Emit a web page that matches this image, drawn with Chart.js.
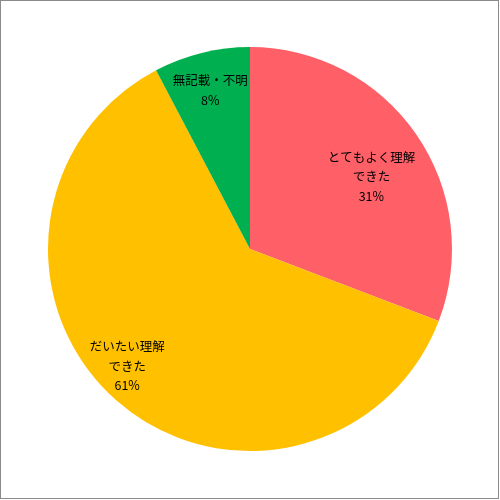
<!DOCTYPE html>
<html>
<head>
<meta charset="utf-8">
<script src="https://cdn.jsdelivr.net/npm/chart.js@4/dist/chart.umd.min.js"></script>
<style>
  html, body { margin: 0; padding: 0; background: #fff; }
  #wrap { width: 500px; height: 500px; }
</style>
</head>
<body>
<div id="wrap"><canvas id="chart" width="500" height="500"></canvas></div>
<script>
// answers (order: clockwise from 12 o'clock)
const labels = ['とてもよく理解\nできた', 'だいたい理解\nできた', '無記載・不明'];
const values = [30.8, 61.5, 7.7];
const pctLabels = ['31%', '61%', '8%'];
const colors = ['#FF6068', '#FFC000', '#00B050'];

// label placement: fraction of radius, and angle nudge (deg) from slice middle
const labelRadius = [0.70, 0.84, 0.81];
const labelNudge = [3.7, 4.8, -0.2];

const frameAndLabels = {
  id: 'frameAndLabels',
  afterDatasetsDraw(chart) {
    const ctx = chart.ctx;
    const meta = chart.getDatasetMeta(0);
    ctx.save();
    ctx.fillStyle = '#000';
    ctx.font = '12.5px "Noto Sans CJK JP", sans-serif';
    ctx.textAlign = 'center';
    ctx.textBaseline = 'middle';
    meta.data.forEach((arc, i) => {
      const p = arc.getProps(['x', 'y', 'startAngle', 'endAngle', 'outerRadius'], true);
      const a = (p.startAngle + p.endAngle) / 2 + labelNudge[i] * Math.PI / 180;
      const r = p.outerRadius * labelRadius[i];
      const cx = p.x + Math.cos(a) * r;
      const cy = p.y + Math.sin(a) * r;
      const lines = labels[i].split('\n').concat([pctLabels[i]]);
      const lh = 19.5;
      const top = cy - (lines.length - 1) * lh / 2;
      lines.forEach((t, k) => ctx.fillText(t, cx, top + k * lh));
    });
    ctx.strokeStyle = '#8a8a8a';
    ctx.lineWidth = 1;
    ctx.strokeRect(0.5, 0.5, 498, 498);
    ctx.restore();
  }
};

new Chart(document.getElementById('chart').getContext('2d'), {
  type: 'pie',
  data: {
    labels: labels,
    datasets: [{
      data: values,
      backgroundColor: colors,
      borderWidth: 0
    }]
  },
  options: {
    responsive: false,
    animation: false,
    layout: { padding: { top: 45, bottom: 47, left: 48, right: 48 } },
    plugins: {
      legend: { display: false },
      tooltip: { enabled: false }
    }
  },
  plugins: [frameAndLabels]
});
</script>
</body>
</html>
